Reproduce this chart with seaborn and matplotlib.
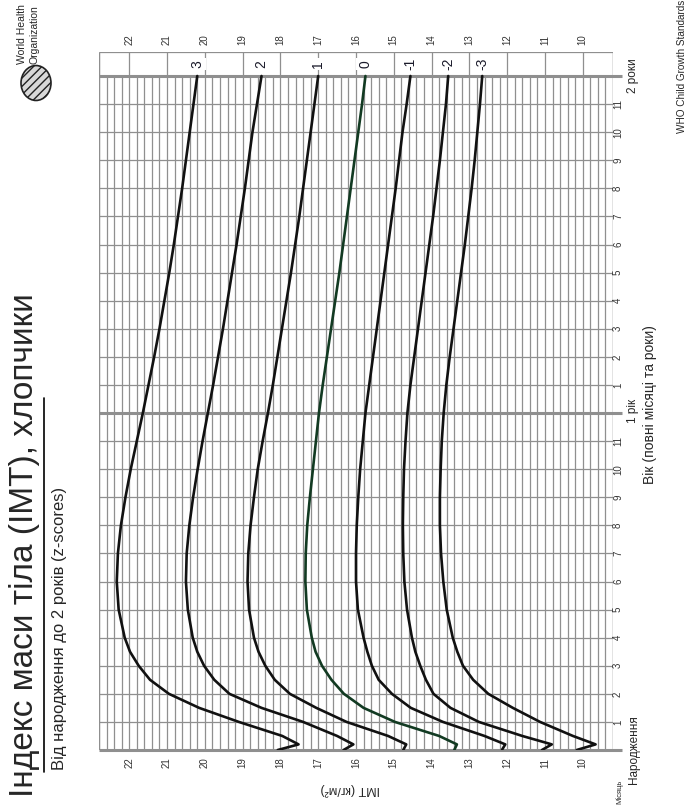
import numpy as np
import pandas as pd
import seaborn as sns
import matplotlib.pyplot as plt
from matplotlib import transforms
from matplotlib.patches import Circle

# age in months and BMI values of the z-score curves
ages = [0, 0.2, 0.5, 1, 1.5, 2, 2.5, 3, 3.5, 4, 5, 6, 7, 8, 9, 10, 11, 12,
        13, 14, 15, 16, 17, 18, 19, 20, 21, 22, 23, 24]
sd3 = [18.07, 17.52, 17.95, 19.1, 20.15, 20.95, 21.45, 21.75, 21.98, 22.12, 22.28, 22.33, 22.3, 22.22, 22.1,
       21.96, 21.8, 21.64, 21.49, 21.34, 21.2, 21.07, 20.94, 20.82, 20.71, 20.6, 20.5, 20.4, 20.3, 20.2]
sd2 = [16.33, 16.07, 16.5, 17.4, 18.5, 19.35, 19.75, 20.02, 20.2, 20.32, 20.45, 20.5, 20.48, 20.41, 20.31,
       20.19, 20.06, 19.92, 19.78, 19.65, 19.52, 19.4, 19.28, 19.16, 19.05, 18.94, 18.84, 18.74, 18.62, 18.5]
sd1 = [14.75, 14.67, 15.15, 16.25, 17.05, 17.75, 18.15, 18.4, 18.58, 18.7, 18.83, 18.87, 18.85, 18.79, 18.7,
       18.6, 18.47, 18.33, 18.2, 18.08, 17.96, 17.84, 17.72, 17.61, 17.5, 17.4, 17.3, 17.2, 17.1, 17.0]
sd0 = [13.4, 13.33, 13.8, 14.97, 15.8, 16.32, 16.65, 16.9, 17.07, 17.17, 17.3, 17.34, 17.33, 17.29, 17.22,
       17.14, 17.06, 16.98, 16.88, 16.77, 16.66, 16.55, 16.44, 16.34, 16.24, 16.14, 16.04, 15.94, 15.84, 15.75]
sdm1 = [12.14, 12.05, 12.6, 13.7, 14.55, 15.05, 15.4, 15.58, 15.7, 15.8, 15.95, 16.0, 16.0, 15.98, 15.94,
        15.89, 15.82, 15.75, 15.65, 15.55, 15.45, 15.35, 15.25, 15.15, 15.05, 14.95, 14.86, 14.77, 14.66, 14.56]
sdm2 = [11.08, 10.82, 11.6, 12.75, 13.5, 13.95, 14.15, 14.3, 14.43, 14.52, 14.65, 14.72, 14.75, 14.76, 14.75,
        14.73, 14.69, 14.64, 14.56, 14.46, 14.36, 14.26, 14.16, 14.06, 13.96, 13.87, 13.78, 13.7, 13.62, 13.56]
sdm3 = [10.16, 9.66, 10.26, 11.13, 11.85, 12.5, 12.9, 13.17, 13.32, 13.44, 13.6, 13.69, 13.75, 13.78, 13.78,
        13.76, 13.73, 13.68, 13.61, 13.52, 13.42, 13.32, 13.22, 13.12, 13.03, 12.94, 12.86, 12.79, 12.72, 12.66]
z_names = ["3", "2", "1", "0", "-1", "-2", "-3"]
bmi_ticks = list(range(10, 23))
month_labels = [1, 2, 3, 4, 5, 6, 7, 8, 9, 10, 11]

curves = [sd3, sd2, sd1, sd0, sdm1, sdm2, sdm3]
df = pd.concat([pd.DataFrame({"age": ages, "bmi": c, "z": z}) for z, c in zip(z_names, curves)])

sns.set_theme(style="white")
plt.rcParams['font.family'] = ['Liberation Sans Narrow', 'Liberation Sans', 'DejaVu Sans']

W, H = 692, 806
fig = plt.figure(figsize=(W / 100, H / 100), dpi=100)
fig.patch.set_facecolor("white")

# chart is drawn turned on its side: BMI runs left->right (22.8 -> 9.2), age runs up
top_age = 24 + 24 / 28.08
ax = fig.add_axes([99 / W, 1 - 750 / H, (613 - 99) / W, (750 - 52) / H])
ax.set_xlim(22.8, 9.2)
ax.set_ylim(0, top_age)
ax.axis("off")

grid_c = "#8f8f8f"
minor = np.round(np.arange(46, 115) * 0.2, 1)
ax.vlines(minor, 0, 24, color=grid_c, lw=0.9, zorder=1)
ax.vlines(bmi_ticks + [22.8, 9.2], 24, top_age, color=grid_c, lw=0.9, zorder=1)
ax.vlines([22.8, 9.2], 0, top_age, color=grid_c, lw=0.9, zorder=1)
ax.hlines(top_age, 22.8, 9.2, color=grid_c, lw=0.9, zorder=1)
months = [m for m in range(1, 24) if m != 12]
ax.hlines(months, 22.8, 9.2, color=grid_c, lw=0.9, zorder=1)
ax.hlines([0, 12, 24], 22.8, 8.97, color=grid_c, lw=2.2, zorder=1, clip_on=False)

sns.lineplot(data=df, x="bmi", y="age", hue="z", units="z", estimator=None, sort=False,
             orient="y", palette={z: ("#123a22" if z == "0" else "#111111") for z in z_names},
             lw=1.9, legend=False, ax=ax, zorder=3)

# z-score labels in the header strip
for z, c in zip(z_names, curves):
    ax.text(c[-1], 24.43, z, rotation=90, ha="center", va="center", fontsize=10,
            color="#1a1a2a", zorder=4, bbox=dict(fc="white", ec="none", pad=1.5))

# BMI tick labels top and bottom
tx = transforms.blended_transform_factory(ax.transData, ax.transAxes)
for b in bmi_ticks:
    ax.text(b, (750 - 40) / 698, str(b), transform=tx, rotation=90, ha="center", va="center",
            fontsize=7, color="#333333", clip_on=False)
    ax.text(b, (750 - 763) / 698, str(b), transform=tx, rotation=90, ha="center", va="center",
            fontsize=7, color="#333333", clip_on=False)

# month tick labels on the right
ty = transforms.blended_transform_factory(ax.transAxes, ax.transData)
xr = (618 - 99) / 514
for yr in (0, 12):
    for m in month_labels:
        ax.text(xr, yr + m, str(m), transform=ty, rotation=90, ha="center", va="center",
                fontsize=7, color="#333333", clip_on=False)


def px(x, y):
    return x / W, 1 - y / H


fig.text(*px(634, 750), "Народження", rotation=90, ha="center", va="center", fontsize=8.5)
fig.text(*px(619, 792), "Місяць", rotation=90, ha="center", va="center", fontsize=5.5)
fig.text(*px(633, 411), "1 рік", rotation=90, ha="center", va="center", fontsize=8.5)
fig.text(*px(633, 76), "2 роки", rotation=90, ha="center", va="center", fontsize=8.5)
fig.text(*px(650, 405), "Вік (повні місяці та роки)", rotation=90, ha="center", va="center", fontsize=10)
fig.text(*px(682, 0), "WHO Child Growth Standards", rotation=90, ha="center", va="top", fontsize=7.2)
fig.text(*px(350, 789), "ІМТ (кг/м²)", rotation=180, ha="center", va="center", fontsize=9)

# title block
fig.text(*px(25, 797), "Індекс маси тіла (ІМТ), хлопчики", rotation=90, ha="center", va="bottom",
         fontsize=24)
fig.lines.append(plt.Line2D([44 / W, 44 / W], [1 - 772 / H, 1 - 398 / H], transform=fig.transFigure,
                            color="black", lw=1.2))
fig.text(*px(60, 770), "Від народження до 2 років (z-scores)", rotation=90, ha="center", va="bottom",
         fontsize=12)

# WHO emblem and name
fig.patches.append(Circle(px(36, 83), 15 / W, transform=fig.transFigure, fc="#d8d8d8", ec="#222222",
                          lw=1.2, hatch="////"))
fig.text(*px(22, 64), "World Health", rotation=90, ha="center", va="bottom", fontsize=7.5)
fig.text(*px(35, 64), "Organization", rotation=90, ha="center", va="bottom", fontsize=7.5)

fig.savefig("out.png", dpi=100, facecolor="white")
